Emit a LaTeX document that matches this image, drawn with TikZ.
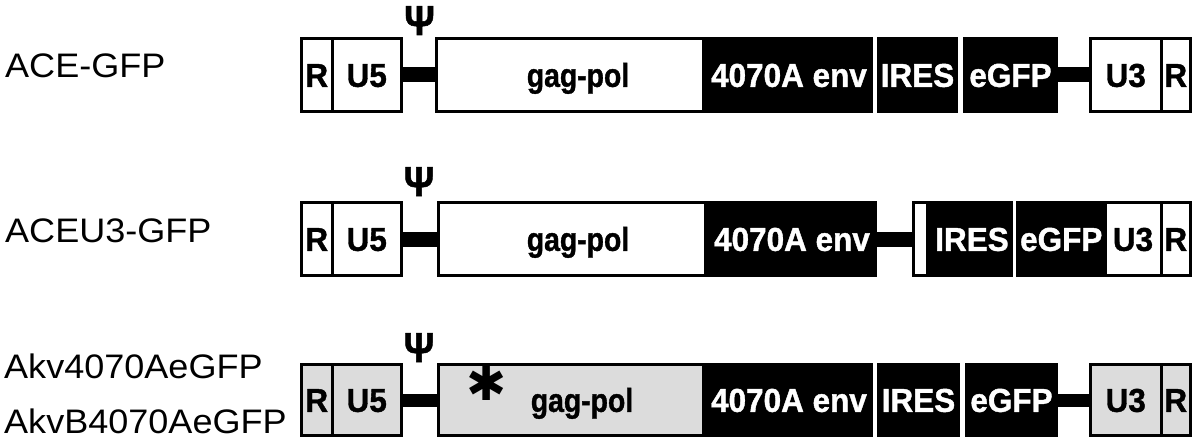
\documentclass[tikz,border=0pt]{standalone}
\usepackage{fontspec}
\setmainfont{Liberation Sans}
\newfontfamily\boxfont[FakeBold=1.2]{Liberation Sans Bold}
\newfontfamily\symfont{DejaVu Sans}
\usepackage{graphicx}
\definecolor{lgray}{RGB}{220,220,220}
\newcommand{\bt}[1]{\scalebox{1}[1.05]{#1}}
\tikzset{
  seg/.style={rectangle, inner sep=0pt, outer sep=0pt, line width=3pt,
    font=\fontsize{31.5}{31.5}\selectfont\boxfont, text height=23.7pt, text depth=0pt},
  wbox/.style={seg, draw=black, fill=white, minimum height=73pt},
  gbox/.style={seg, draw=black, fill=lgray, minimum height=71pt},
  kbox/.style={seg, fill=black, text=white, minimum height=76pt},
  kboxg/.style={seg, fill=black, text=white, minimum height=74pt},
  bar/.style={line width=15pt},
  lbl/.style={anchor=west, inner sep=0pt, font=\fontsize{34}{34}\selectfont, text height=24.3pt, text depth=0pt},
  psi/.style={inner sep=0pt, font=\fontsize{42}{42}\selectfont\boxfont, text height=30pt, text depth=0pt},
}
\begin{document}
\begin{tikzpicture}[x=1pt,y=-1pt]
\useasboundingbox (0,0) rectangle (1200,444);
% labels
\node[lbl] (l1) at (5,65) {\scalebox{1.06}[1]{ACE-GFP}};
\node[lbl] (l2) at (5,230) {\scalebox{1.06}[1]{ACEU3-GFP}};
\node[lbl] (l3) at (4,366.5) {\scalebox{1.06}[1]{Akv4070AeGFP}};
\node[lbl] (l4) at (4,421.5) {\scalebox{1.06}[1]{AkvB4070AeGFP}};
% ---------- row 1
\node[wbox,minimum width=30.5pt] (r1R) at (316.75,75) {\bt{R}};
\node[wbox,minimum width=69.5pt] (r1U5) at (366.75,75) {\bt{U5}};
\node[wbox,minimum width=267pt] (r1gag) at (570,75) {\hspace{16pt}\bt{\scalebox{0.9}[1]{gag-pol}}};
\node[kbox,minimum width=168pt] (r1env) at (789,75) {\bt{4070A env}};
\node[kbox,minimum width=81pt] (r1ires) at (917.5,75) {\bt{IRES}};
\node[kbox,minimum width=95pt] (r1gfp) at (1010.5,75) {\bt{eGFP}};
\node[wbox,minimum width=70.5pt] (r1U3) at (1125.75,75) {\bt{U3}};
\node[wbox,minimum width=29.5pt] (r1R2) at (1175.75,75) {\bt{R}};
\draw[bar] (r1U5.east) -- (r1gag.west);
\draw[bar] (r1gfp.east) -- (r1U3.west);
\node[psi] (p1) at (419.5,20) {\scalebox{0.9}[1]{Ψ}};
% ---------- row 2
\node[wbox,minimum width=30.5pt] (r2R) at (316.75,239) {\bt{R}};
\node[wbox,minimum width=69.5pt] (r2U5) at (366.75,239) {\bt{U5}};
\node[wbox,minimum width=267pt] (r2gag) at (572,239) {\hspace{12pt}\bt{\scalebox{0.9}[1]{gag-pol}}};
\node[kbox,minimum width=170pt] (r2env) at (792,239) {\bt{4070A env}};
\node[wbox,fill=black,text=white,minimum width=98pt] (r2ires) at (962.5,239) {\hspace{19pt}\bt{IRES}};
\fill[white] ([xshift=1.5pt,yshift=-1.5pt]r2ires.north west) rectangle ([xshift=12pt,yshift=1.5pt]r2ires.south west);
\node[wbox,fill=black,text=white,minimum width=87.5pt] (r2gfp) at (1061.25,239) {\bt{eGFP}};
\node[wbox,minimum width=56pt] (r2U3) at (1133,239) {\bt{U3}};
\node[wbox,minimum width=29.5pt] (r2R2) at (1175.75,239) {\bt{R}};
\draw[bar] (r2U5.east) -- (r2gag.west);
\draw[bar] (r2env.east) -- (r2ires.west);
\node[psi] (p2) at (419,181) {\scalebox{0.9}[1]{Ψ}};
% ---------- row 3
\node[gbox,minimum width=30.5pt] (r3R) at (316.75,400) {\bt{R}};
\node[gbox,minimum width=69.5pt] (r3U5) at (366.75,400) {\bt{U5}};
\node[gbox,minimum width=265pt] (r3gag) at (571,400) {\hspace{22pt}\bt{\scalebox{0.9}[1]{gag-pol}}};
\node[kboxg,minimum width=168pt] (r3env) at (789,400) {\bt{4070A env}};
\node[kboxg,minimum width=83pt] (r3ires) at (918.5,400) {\bt{IRES}};
\node[kboxg,minimum width=93pt] (r3gfp) at (1011.5,400) {\bt{eGFP}};
\node[gbox,minimum width=70.5pt] (r3U3) at (1125.75,400) {\bt{U3}};
\node[gbox,minimum width=29.5pt] (r3R2) at (1175.75,400) {\bt{R}};
\draw[bar,line width=13pt] (r3U5.east) -- (r3gag.west);
\draw[bar,line width=13pt] (r3gfp.east) -- (r3U3.west);
\node[psi] (p3) at (419,347) {\scalebox{0.9}[1]{Ψ}};
\node[inner sep=0pt, font=\fontsize{48}{48}\selectfont\symfont] (ast) at (487,383) {✱};
\end{tikzpicture}
\end{document}
